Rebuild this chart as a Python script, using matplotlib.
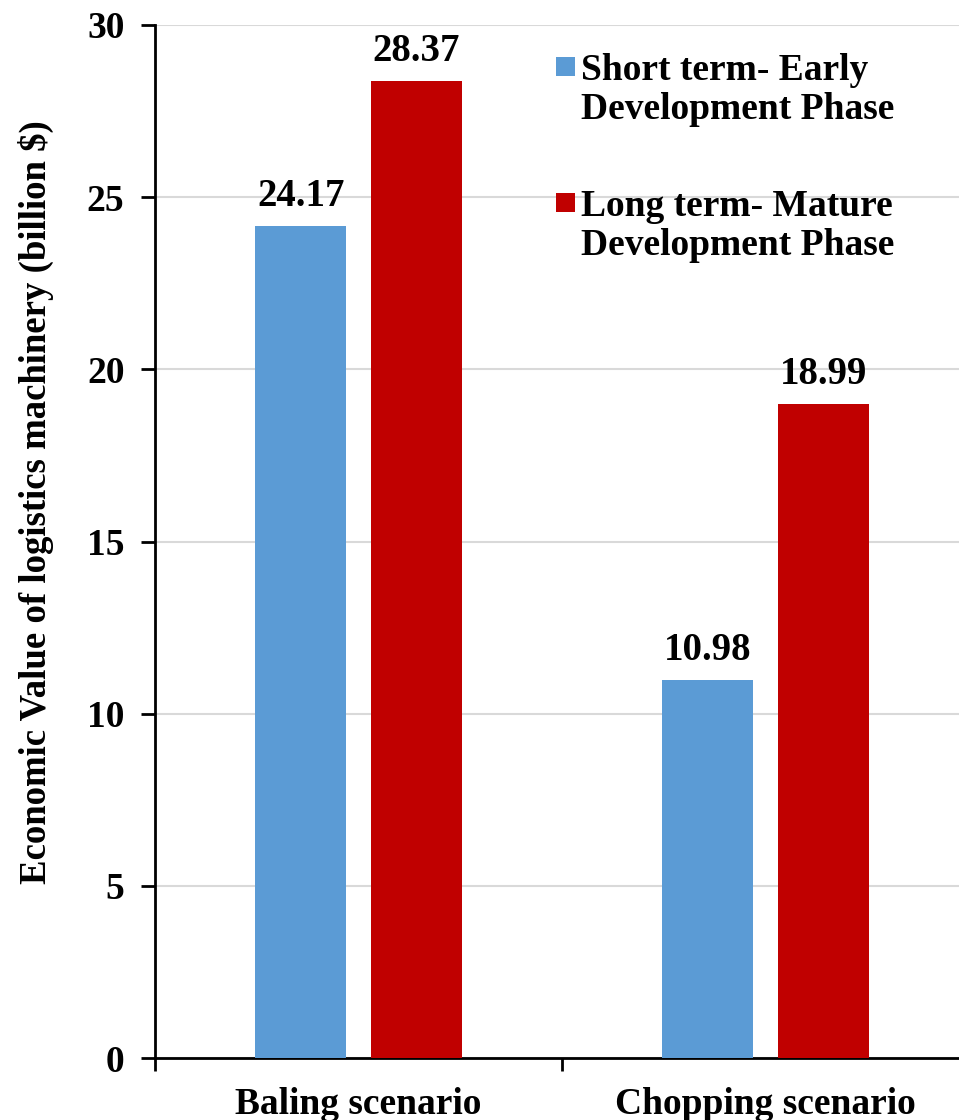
import numpy as np
import matplotlib.pyplot as plt
from matplotlib.patches import Rectangle
from matplotlib.legend_handler import HandlerPatch

# data
scenarios = ['Baling scenario', 'Chopping scenario']
short_term = [24.17, 10.98]
long_term = [28.37, 18.99]
series_names = ['Short term- Early\nDevelopment Phase',
                'Long term- Mature\nDevelopment Phase']
yticks = [0, 5, 10, 15, 20, 25, 30]

plt.rcParams['font.family'] = 'Liberation Serif'
plt.rcParams['font.weight'] = 'bold'

fig = plt.figure(figsize=(9.59, 11.2), dpi=100)
ax = fig.add_axes([155 / 959, 62 / 1120, 814 / 959, 1033 / 1120])

x = np.arange(len(scenarios))
w = 0.224
b1 = ax.bar(x - 0.142, short_term, w, color='#5b9bd5', zorder=3)
b2 = ax.bar(x + 0.142, long_term, w, color='#c00000', zorder=3)

# value labels above bars
for bars, vals in [(b1, short_term), (b2, long_term)]:
    for r, v in zip(bars, vals):
        ax.text(r.get_x() + r.get_width() / 2, v + 0.58, '%.2f' % v,
                ha='center', va='baseline', fontsize=28, fontweight='bold')

ax.set_xlim(-0.5, 1.5)
ax.set_ylim(0, 30)
ax.set_yticks(yticks)
ax.set_yticklabels([str(t) for t in yticks], fontsize=27, fontweight='bold')
ax.set_xticks(x)
ax.set_xticklabels(scenarios, fontsize=27, fontweight='bold')
ax.tick_params(axis='x', length=0, pad=21)
ax.set_xticks([-0.5, 0.5, 1.5], minor=True)
ax.tick_params(axis='x', which='minor', length=9, width=2, direction='out')
ax.tick_params(axis='y', length=10, width=2, direction='out', pad=12)

ax.grid(axis='y', color='#d9d9d9', linewidth=1.5, zorder=0)
ax.spines['top'].set_visible(False)
ax.spines['right'].set_visible(False)
ax.spines['left'].set_linewidth(2)
ax.spines['bottom'].set_linewidth(2)

ax.set_ylabel('Economic Value of logistics machinery (billion $)',
              fontsize=26.5, fontweight='bold')
ax.yaxis.set_label_coords(-0.124, 0.538)


# legend square sits level with the first line of each label
def top_square(legend, orig_handle, xdescent, ydescent, width, height, fontsize):
    return Rectangle((-xdescent, -ydescent + 0.66 * fontsize), width, width)


leg = ax.legend(handles=[b1[0], b2[0]], labels=series_names,
                loc='upper left', bbox_to_anchor=(0.4926, 0.973), frameon=False,
                fontsize=27, handlelength=0.51, handleheight=0.51,
                handletextpad=0.17, labelspacing=1.66, borderaxespad=0,
                borderpad=0,
                handler_map={Rectangle: HandlerPatch(patch_func=top_square)})
for t in leg.get_texts():
    t.set_linespacing(1.15)

fig.savefig('out.png', dpi=100)
